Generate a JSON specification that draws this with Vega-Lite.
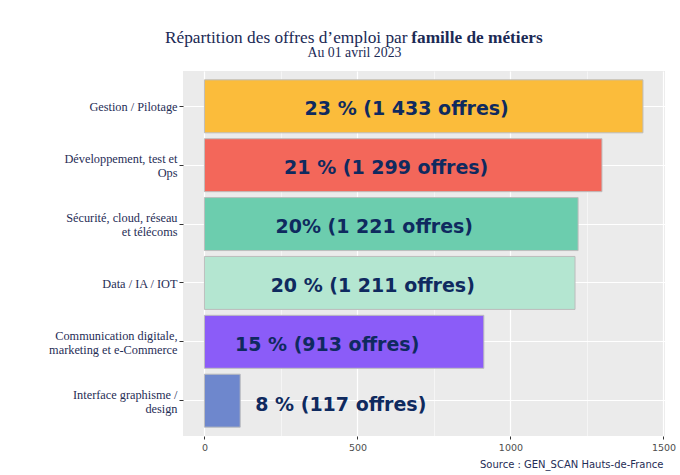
{
  "$schema": "https://vega.github.io/schema/vega-lite/v6.json",
  "width": 482,
  "height": 365,
  "autosize": {"type": "none"},
  "padding": {"left": 183, "top": 71, "right": 15, "bottom": 39},
  "background": "white",
  "config": {"view": {"fill": "#EBEBEB", "stroke": null}},
  "title": {
    "text": "Répartition des offres d’emploi par",
    "subtitle": "\u200b\u00a0\u00a0\u00a0\u00a0\u00a0\u00a0\u00a0\u00a0\u00a0\u00a0\u00a0\u00a0\u00a0\u00a0\u00a0\u00a0\u00a0\u00a0\u00a0\u00a0\u00a0\u00a0\u00a0\u00a0\u00a0\u00a0\u00a0\u00a0\u00a0\u00a0\u00a0\u00a0\u00a0\u00a0\u00a0\u00a0\u00a0\u00a0\u00a0\u00a0\u00a0\u00a0\u00a0\u00a0\u00a0\u00a0\u00a0\u00a0\u00a0\u00a0\u00a0\u00a0\u00a0\u00a0\u00a0\u00a0\u00a0famille de métiers",
    "anchor": "start",
    "frame": "group",
    "align": "left",
    "dx": -18,
    "font": "Liberation Serif",
    "fontSize": 17.3,
    "fontWeight": "normal",
    "color": "#1b2a55",
    "subtitleFont": "Liberation Serif",
    "subtitleFontSize": 17.3,
    "subtitleFontWeight": "bold",
    "subtitleColor": "#1b2a55",
    "subtitlePadding": -17.3,
    "offset": -1
  },
  "data": {
    "values": [
      {"famille": "Gestion / Pilotage", "offres": 1433, "label": "23 % (1 433 offres)"},
      {"famille": "Développement, test et Ops", "offres": 1299, "label": "21 % (1 299 offres)"},
      {"famille": "Sécurité, cloud, réseau et télécoms", "offres": 1221, "label": "20% (1 221 offres)"},
      {"famille": "Data / IA / IOT", "offres": 1211, "label": "20 % (1 211 offres)"},
      {"famille": "Communication digitale, marketing et e-Commerce", "offres": 913, "label": "15 % (913 offres)"},
      {"famille": "Interface graphisme / design", "offres": 117, "label": "8 % (117 offres)"}
    ]
  },
  "encoding": {
    "y": {
      "field": "famille",
      "type": "nominal",
      "sort": null,
      "scale": {
        "domain": ["Gestion / Pilotage", "Développement, test et Ops", "Sécurité, cloud, réseau et télécoms", "Data / IA / IOT", "Communication digitale, marketing et e-Commerce", "Interface graphisme / design"],
        "paddingInner": 0.1,
        "paddingOuter": 0.15
      },
      "axis": {
        "title": null,
        "domain": false,
        "grid": true,
        "gridColor": "white",
        "gridWidth": 1.2,
        "ticks": true,
        "tickSize": 4,
        "tickColor": "#333333",
        "tickWidth": 1,
        "labelPadding": 2,
        "labelFont": "Liberation Serif",
        "labelFontSize": 12.3,
        "labelLineHeight": 14,
        "labelColor": "#1f2d56",
        "labelLimit": 300,
        "labelOffset": {"condition": {"test": "datum.value != 'Gestion / Pilotage' && datum.value != 'Data / IA / IOT'", "value": -6}, "value": 1},
        "labelExpr": "datum.value == 'Développement, test et Ops' ? ['Développement, test et', 'Ops'] : datum.value == 'Sécurité, cloud, réseau et télécoms' ? ['Sécurité, cloud, réseau', 'et télécoms'] : datum.value == 'Communication digitale, marketing et e-Commerce' ? ['Communication digitale,', 'marketing et e-Commerce'] : datum.value == 'Interface graphisme / design' ? ['Interface graphisme /', 'design'] : datum.value"
      }
    }
  },
  "layer": [
    {
      "mark": {"type": "bar", "stroke": "#BDBDBD", "strokeWidth": 1},
      "encoding": {
        "x": {
          "field": "offres",
          "type": "quantitative",
          "scale": {"domain": [-70, 1505], "nice": false, "zero": false},
          "axis": {
            "values": [0, 250, 500, 750, 1000, 1250, 1500],
            "format": "d",
            "labelExpr": "datum.value % 500 === 0 ? datum.label : ''",
            "labelFont": "DejaVu Sans",
            "labelFontSize": 9.5,
            "labelColor": "#4D4D4D",
            "labelPadding": 3,
            "labelFlush": false,
            "labelOverlap": false,
            "domain": false,
            "tickSize": 3,
            "tickColor": "#333333",
            "tickOpacity": {"condition": {"test": "datum.value % 500 === 0", "value": 1}, "value": 0},
            "grid": true,
            "gridColor": "white",
            "gridWidth": {"condition": {"test": "datum.value % 500 === 0", "value": 1.2}, "value": 0.5},
            "title": "Source : GEN_SCAN Hauts-de-France",
            "titleFont": "DejaVu Sans",
            "titleFontSize": 10,
            "titleFontWeight": "normal",
            "titleColor": "#1f2d56",
            "titleAlign": "right",
            "titleBaseline": "alphabetic",
            "titleX": 480,
            "titleY": 31
          }
        },
        "color": {
          "field": "famille",
          "type": "nominal",
          "scale": {
            "domain": ["Gestion / Pilotage", "Développement, test et Ops", "Sécurité, cloud, réseau et télécoms", "Data / IA / IOT", "Communication digitale, marketing et e-Commerce", "Interface graphisme / design"],
            "range": ["#FBBC3B", "#F3675A", "#6CCDAE", "#B4E6D1", "#8B5CF8", "#6E87CD"]
          },
          "legend": null
        }
      }
    },
    {
      "transform": [{"filter": "datum.offres > 500"}],
      "mark": {"type": "text", "font": "DejaVu Sans", "fontWeight": "bold", "fontSize": 19, "color": "#0F2A5F", "align": "center", "baseline": "middle", "dx": -17, "dy": 3},
      "encoding": {
        "x": {
          "field": "offres",
          "type": "quantitative",
          "scale": {"domain": [-140, 3010], "nice": false, "zero": false},
          "axis": {
            "orient": "top",
            "labels": false,
            "ticks": false,
            "domain": false,
            "grid": false,
            "title": "Au 01 avril 2023",
            "titleFont": "Liberation Serif",
            "titleFontSize": 13.8,
            "titleFontWeight": "normal",
            "titleColor": "#1b2a55",
            "titleAlign": "center",
            "titleBaseline": "alphabetic",
            "titleX": 171,
            "titleY": -15
          }
        },
        "text": {"field": "label"}
      }
    },
    {
      "transform": [{"filter": "datum.offres <= 500"}],
      "mark": {"type": "text", "font": "DejaVu Sans", "fontWeight": "bold", "fontSize": 19, "color": "#0F2A5F", "align": "left", "baseline": "middle", "dx": 15, "dy": 4},
      "encoding": {
        "x": {
          "field": "offres",
          "type": "quantitative",
          "scale": {"domain": [-70, 1505], "nice": false, "zero": false},
          "axis": null
        },
        "text": {"field": "label"}
      }
    }
  ],
  "resolve": {"scale": {"x": "independent"}, "axis": {"x": "independent"}}
}
